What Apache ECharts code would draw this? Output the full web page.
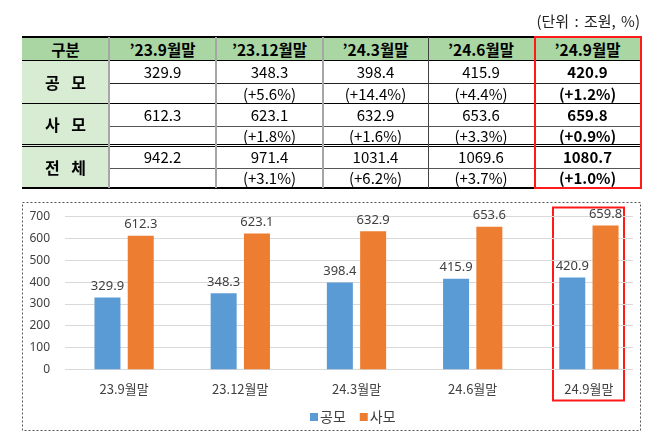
<!DOCTYPE html>
<html><head><meta charset="utf-8">
<script src="https://cdn.jsdelivr.net/npm/echarts/dist/echarts.min.js"></script>
<style>
body{margin:0;background:#fff;width:658px;height:444px;overflow:hidden;}
#chart{position:absolute;left:0;top:0;width:658px;height:444px;}
#table{position:absolute;left:0;top:0;width:658px;height:200px;font-family:"Noto Sans CJK KR","Noto Sans",sans-serif;color:#000;}
</style></head><body>
<div id="chart"></div>
<div id="table"></div>
<script>
// ---- data ----
const categories = ['23.9월말', '23.12월말', '24.3월말', '24.6월말', '24.9월말'];
const headerLabels = ['구분', '’23.9월말', '’23.12월말', '’24.3월말', '’24.6월말', '’24.9월말'];
const rowLabels = ['공 모', '사 모', '전 체'];
const seriesNames = ['공모', '사모'];
const publicValues = [329.9, 348.3, 398.4, 415.9, 420.9];
const privateValues = [612.3, 623.1, 632.9, 653.6, 659.8];
const totalValues = [942.2, 971.4, 1031.4, 1069.6, 1080.7];
const publicChange = ['', '(+5.6%)', '(+14.4%)', '(+4.4%)', '(+1.2%)'];
const privateChange = ['', '(+1.8%)', '(+1.6%)', '(+3.3%)', '(+0.9%)'];
const totalChange = ['', '(+3.1%)', '(+6.2%)', '(+3.7%)', '(+1.0%)'];
const unitText = '(단위 : 조원, %)';
const yTicks = [0, 100, 200, 300, 400, 500, 600, 700];

// ---- table ----
const tbl = document.getElementById('table');
function box(x, y, w, h, css) {
  const d = document.createElement('div');
  d.style.cssText = `position:absolute;left:${x}px;top:${y}px;width:${w}px;height:${h}px;` + css;
  tbl.appendChild(d); return d;
}
function cell(x, y, w, h, text, css) {
  const d = box(x, y, w, h, 'display:flex;align-items:center;justify-content:center;white-space:nowrap;' + (css || ''));
  d.textContent = text; return d;
}
const colX = [22, 109, 216, 323, 428, 534, 641];
const headTop = 37, headBot = 60;
const rowTop = [60, 103.5, 145.5], rowMid = [83, 126, 168], rowBot = [103.5, 144.5, 187.5];
const rowVals = [publicValues, privateValues, totalValues];
const rowPct = [publicChange, privateChange, totalChange];

box(22, headTop, 619, headBot - headTop, 'background:#a9d6a3;');
box(22, headBot, 87, 187.5 - headBot, 'background:#d7ecd3;');
for (let c = 0; c < 6; c++) {
  cell(colX[c], headTop, colX[c + 1] - colX[c], headBot - headTop, headerLabels[c], 'font-size:15.5px;font-weight:bold;');
}
for (let r = 0; r < 3; r++) {
  cell(22, rowTop[r], 87, rowBot[r] - rowTop[r], rowLabels[r], 'font-size:16px;font-weight:bold;white-space:pre;letter-spacing:4px;padding-left:4px;box-sizing:border-box;');
  for (let c = 0; c < 5; c++) {
    const bold = c === 4 ? 'font-weight:bold;' : '';
    cell(colX[c + 1], rowTop[r], colX[c + 2] - colX[c + 1], rowMid[r] - rowTop[r], rowVals[r][c].toFixed(1), 'font-size:15px;' + bold);
    cell(colX[c + 1], rowMid[r], colX[c + 2] - colX[c + 1], rowBot[r] - rowMid[r], rowPct[r][c], 'font-size:15px;' + bold);
  }
}
// lines
box(22, 36, 619, 2, 'background:#000;');
box(22, 59.5, 619, 1, 'background:#000;');
box(109, 82.5, 532, 1, 'background:#222;');
box(22, 103, 619, 1, 'background:#000;');
box(109, 125.5, 532, 1, 'background:#555;');
box(22, 143.5, 619, 1, 'background:#000;');
box(22, 145.5, 619, 1, 'background:#000;');
box(109, 167.5, 532, 1, 'background:#555;');
box(22, 187, 619, 2, 'background:#000;');
box(108, 37, 2, 151, 'background:#a6a6a6;');
box(215, 37, 2, 151, 'background:#a6a6a6;');
box(322, 37, 2, 151, 'background:#a6a6a6;');
box(427.5, 37, 1, 151, 'background:#444;');
box(533.5, 36, 108, 153, 'border:2px solid #ff1a1a;box-sizing:border-box;');
const u = cell(480, 10, 160, 20, unitText, 'font-size:15px;justify-content:flex-end;color:#222;word-spacing:2px;');

// ---- chart ----
const chart = echarts.init(document.getElementById('chart'), null, { renderer: 'canvas' });
const gTop = 216.7, gBottom = 444 - 369.3;
const labelStyle = { show: true, position: 'top', distance: 5, fontSize: 13, color: '#404040', fontFamily: 'Noto Sans', formatter: p => p.value.toFixed(1) };
chart.setOption({
  animation: false,
  textStyle: { fontFamily: '"Noto Sans CJK KR","Noto Sans",sans-serif' },
  grid: [
    { left: 65, right: 25, top: gTop, bottom: gBottom, containLabel: false, outerBoundsMode: 'none' },
    { left: 66, right: 11, top: gTop, bottom: gBottom, containLabel: false, outerBoundsMode: 'none' }
  ],
  xAxis: [
    { gridIndex: 0, type: 'value', show: false, min: 0, max: 1 },
    { gridIndex: 1, type: 'category', data: categories,
      axisLine: { show: false }, axisTick: { show: false },
      axisLabel: { margin: 13, fontSize: 13, color: '#404040', fontFamily: '"Noto Sans CJK KR",sans-serif' } }
  ],
  yAxis: [
    { gridIndex: 0, type: 'value', min: yTicks[0], max: yTicks[yTicks.length - 1], interval: yTicks[1] - yTicks[0],
      axisLine: { show: false }, axisTick: { show: false },
      axisLabel: { margin: 15, fontSize: 12, color: '#404040', fontFamily: 'Noto Sans' },
      splitLine: { lineStyle: { color: '#d9d9d9', width: 1 } } },
    { gridIndex: 1, type: 'value', min: yTicks[0], max: yTicks[yTicks.length - 1], show: false, splitLine: { show: false } }
  ],
  legend: {
    data: seriesNames, left: 305, top: 405, icon: 'rect', itemWidth: 8, itemHeight: 8, itemGap: 14,
    textStyle: { fontSize: 14, color: '#404040', padding: [0, 0, 0, -3] }
  },
  series: [
    { name: seriesNames[0], type: 'bar', xAxisIndex: 1, yAxisIndex: 1, data: publicValues,
      barWidth: 26, barGap: '28%', itemStyle: { color: '#5b9bd5' }, label: labelStyle },
    { name: seriesNames[1], type: 'bar', xAxisIndex: 1, yAxisIndex: 1, data: privateValues,
      barWidth: 26, barGap: '28%', itemStyle: { color: '#ed7d31' }, label: labelStyle }
  ],
  graphic: [
    { type: 'rect', shape: { x: 22.5, y: 202.5, width: 618, height: 228 }, silent: true,
      style: { fill: 'none', stroke: '#555', lineWidth: 1, lineDash: [2, 2] } },
    { type: 'rect', shape: { x: 553, y: 207.5, width: 71, height: 193 }, silent: true,
      style: { fill: 'none', stroke: '#ff1a1a', lineWidth: 2 } }
  ]
});
</script>
</body></html>
